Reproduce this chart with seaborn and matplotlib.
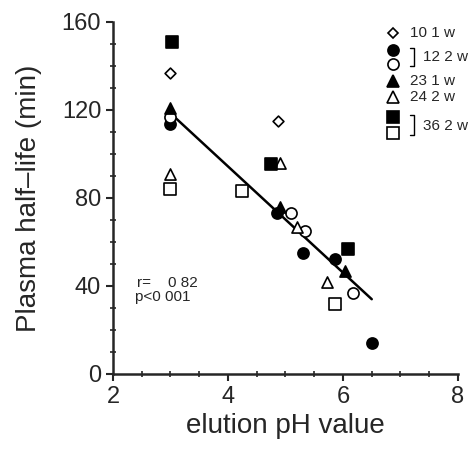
import matplotlib
matplotlib.use("Agg")
import matplotlib.pyplot as plt
import seaborn as sns
import pandas as pd
from matplotlib.ticker import MultipleLocator

# ---- data ----
g101_x = [3.0, 4.87]
g101_y = [137, 115]
g122f_x = [3.0, 4.85, 5.3, 5.86, 6.5]
g122f_y = [113.5, 73, 55, 52.5, 14]
g122o_x = [3.0, 5.1, 5.34, 6.17]
g122o_y = [117, 73, 65, 37]
g231_x = [3.0, 4.9, 6.03]
g231_y = [121, 76, 47]
g242_x = [3.0, 4.9, 5.2, 5.73]
g242_y = [91, 96, 67, 42]
g362f_x = [3.02, 4.74, 6.09]
g362f_y = [151, 95.5, 57]
g362o_x = [3.0, 4.24, 5.86]
g362o_y = [84, 83, 32]
line_x = [3.0, 6.5]
line_y = [118.5, 34]

x_ticks = [2, 4, 6, 8]
y_ticks = [0, 40, 80, 120, 160]

sns.set_style("ticks")
plt.rcParams['font.family'] = ['Liberation Sans', 'DejaVu Sans']

fig = plt.figure(figsize=(4.77, 4.49), dpi=100)
ax = fig.add_axes([113/477, 1-374/449, 345/477, 352/449])

series = [
    (g101_x, g101_y, 'D', 'white', 5.5),
    (g122f_x, g122f_y, 'o', 'black', 8),
    (g122o_x, g122o_y, 'o', 'white', 8),
    (g231_x, g231_y, '^', 'black', 8),
    (g242_x, g242_y, '^', 'white', 8),
    (g362f_x, g362f_y, 's', 'black', 8.5),
    (g362o_x, g362o_y, 's', 'white', 8),
]
sns.lineplot(x=line_x, y=line_y, ax=ax, color='black', lw=1.8, zorder=2)
for xs, ys, m, fc, s in series:
    df = pd.DataFrame({'x': xs, 'y': ys})
    sns.scatterplot(data=df, x='x', y='y', ax=ax, marker=m, s=s**2,
                    facecolor=fc, edgecolor='black', linewidth=1.2, zorder=3)

ax.set_xlim(2, 8)
ax.set_ylim(0, 160)
ax.set_xticks(x_ticks)
ax.set_yticks(y_ticks)
ax.xaxis.set_minor_locator(MultipleLocator(0.5))
ax.yaxis.set_minor_locator(MultipleLocator(10))
ax.tick_params(axis='both', which='major', direction='out', length=5, width=1.5,
               labelsize=17)
ax.tick_params(axis='both', which='minor', direction='inout', length=5, width=1.2)
for sp in ['left', 'bottom']:
    ax.spines[sp].set_linewidth(1.8)
for sp in ['top', 'right']:
    ax.spines[sp].set_visible(False)
ax.set_xlabel('elution pH value', fontsize=20, labelpad=4)
ax.set_ylabel('Plasma half\u2013life (min)', fontsize=20, labelpad=14)

ax.text(2.42, 41.5, 'r=    0 82', fontsize=11, va='center')
ax.text(2.38, 35, 'p<0 001', fontsize=11, va='center')

# legend (figure pixel coordinates)
def fx(px):
    return px / 477
def fy(py):
    return 1 - py / 449

leg_markers = [
    (393, 33, 'D', 'white', 5),
    (393, 50, 'o', 'black', 8),
    (393, 64, 'o', 'white', 8),
    (393, 81, '^', 'black', 8),
    (393, 97, '^', 'white', 8),
    (393, 117, 's', 'black', 9),
    (393, 133, 's', 'white', 9),
]
for px, py, m, fc, s in leg_markers:
    fig.add_artist(plt.Line2D([fx(px)], [fy(py)], marker=m, markersize=s,
                              markerfacecolor=fc, markeredgecolor='black',
                              markeredgewidth=1.2, linestyle='none'))
leg_texts = [(410, 33, '10 1 w'), (423, 57, '12 2 w'), (410, 81, '23 1 w'),
             (410, 97, '24 2 w'), (423, 126, '36 2 w')]
for px, py, t in leg_texts:
    fig.text(fx(px), fy(py), t, fontsize=11, va='center', ha='left')
for y0, y1 in [(48, 66), (115, 135)]:
    fig.add_artist(plt.Line2D([fx(410), fx(414), fx(414), fx(410)],
                              [fy(y0), fy(y0), fy(y1), fy(y1)],
                              color='black', lw=1))

fig.savefig('out.png', dpi=100)
